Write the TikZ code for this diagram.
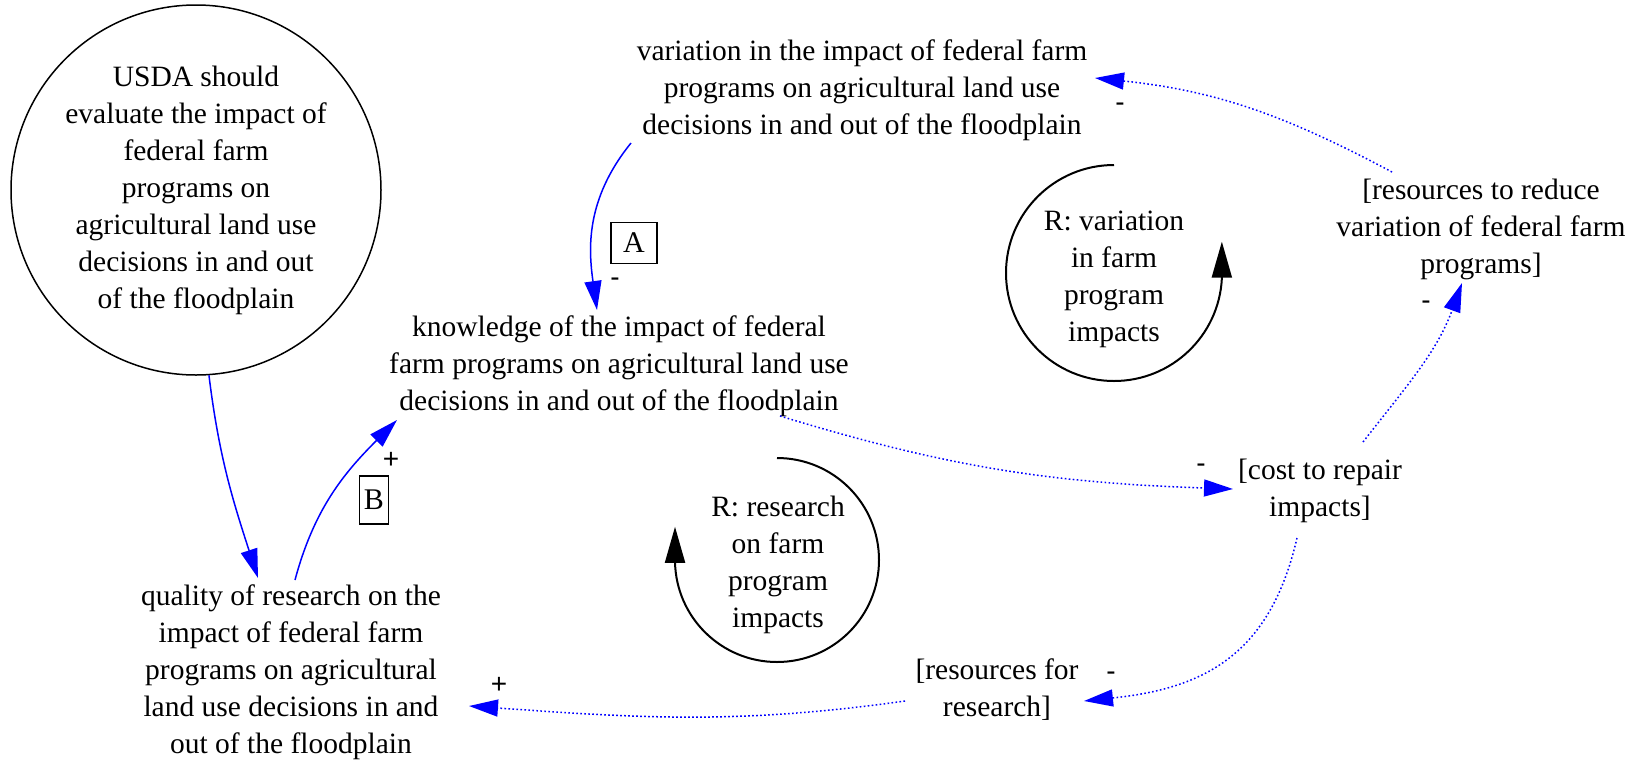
\documentclass[tikz,border=0pt]{standalone}
\usepackage{fontspec}
\setmainfont{Liberation Serif}
\newfontfamily\signfont{Liberation Sans}
\usetikzlibrary{arrows.meta}
\begin{document}
\begin{tikzpicture}[x=1pt,y=1pt,
  lbl/.style={align=center, inner sep=0pt, font=\fontsize{29.5}{37}\selectfont},
  sgn/.style={inner sep=0pt, font=\signfont\fontsize{28}{28}\selectfont},
  tag/.style={draw, line width=1.2pt, inner sep=0pt, font=\fontsize{30}{30}\selectfont},
  link/.style={draw=blue, line width=1.5pt, -{Triangle[length=29pt,width=17pt]}},
  dotlink/.style={link, dash pattern=on 1.6pt off 2.4pt},
  loopc/.style={draw=black, line width=2pt, -{Triangle[length=36pt,width=20pt]}}
]
\useasboundingbox (0,0) rectangle (1631,-764);

\node[lbl, circle, draw, line width=1.5pt, minimum size=370pt] (usda) at (196,-190)
  {USDA should\\evaluate the impact of\\federal farm\\programs on\\agricultural land use\\decisions in and out\\of the floodplain};
\node[lbl] (var) at (862,-90)
  {variation in the impact of federal farm\\programs on agricultural land use\\decisions in and out of the floodplain};
\node[lbl] (know) at (619,-366)
  {knowledge of the impact of federal\\farm programs on agricultural land use\\decisions in and out of the floodplain};
\node[lbl] (qual) at (291,-672)
  {quality of research on the\\impact of federal farm\\programs on agricultural\\land use decisions in and\\out of the floodplain};
\node[lbl] (resres) at (997,-690) {[resources for\\research]};
\node[lbl] (cost) at (1320,-491) {[cost to repair\\impacts]};
\node[lbl] (resred) at (1481,-229) {[resources to reduce\\variation of federal farm\\programs]};
\node[lbl] (loopv) at (1114,-279) {R: variation\\in farm\\program\\impacts};
\node[lbl] (loopr) at (778,-565) {R: research\\on farm\\program\\impacts};

\node[tag, minimum width=46pt, minimum height=41pt] (tagA) at (634,-243) {A};
\node[tag, minimum width=29pt, minimum height=48pt] (tagB) at (374,-500) {B};

\node[sgn] (s1) at (615,-282) {-};
\node[sgn] (s2) at (391,-460) {+};
\node[sgn] (s3) at (1201,-468) {-};
\node[sgn] (s4) at (1426,-305) {-};
\node[sgn] (s5) at (1120,-107) {-};
\node[sgn] (s6) at (1111,-676) {-};
\node[sgn] (s7) at (499,-685) {+};

\draw[loopc] ([shift={(0,114)}]loopv.center) arc[start angle=90, end angle=357, radius=108] -- ++(0,37);
\draw[loopc] ([shift={(-1,107)}]loopr.center) arc[start angle=90, end angle=-179, radius=102] -- ++(0,35);

\draw[link] ([shift={(-231,-53)}]var.center) to[out=-129, in=98, out distance=73pt, in distance=61pt] ([shift={(-22,56)}]know.center);
\draw[link] (usda.-86) to[out=-83, in=108] ([shift={(-33,94)}]qual.center);
\draw[link] ([shift={(4,92)}]qual.center) to[out=75, in=225] ([shift={(-222,-54)}]know.center);
\draw[dotlink] ([shift={(161,-50)}]know.center) to[out=-17, in=178] ([shift={(-87,2)}]cost.center);
\draw[dotlink] ([shift={(43,49)}]cost.center) to[out=52, in=250] ([shift={(-19,-54)}]resred.center);
\draw[dotlink] ([shift={(-89,57)}]resred.center) to[out=152, in=-6] ([shift={(233,12)}]var.center);
\draw[dotlink] ([shift={(-23,-47)}]cost.center) to[out=-103, in=6, looseness=1.15] ([shift={(87,-11)}]resres.center);
\draw[dotlink] ([shift={(-92,-11)}]resres.center) to[out=-172, in=-4] ([shift={(178,-34)}]qual.center);
\end{tikzpicture}
\end{document}
